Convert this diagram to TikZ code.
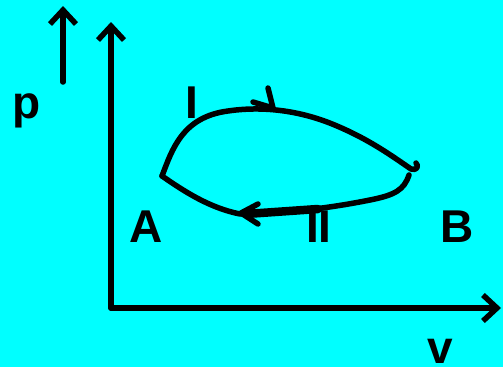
\documentclass[tikz,border=0pt]{standalone}
\usepackage{fontspec}
\setmainfont{Liberation Sans}
\usetikzlibrary{arrows.meta}
\definecolor{bgcyan}{RGB}{0,255,255}
\tikzset{
  lbl/.style={anchor=base west,inner sep=0pt,font=\fontsize{46}{55}\selectfont\bfseries},
  stroke/.style={line width=5.5pt,line cap=round,line join=round},
  axis/.style={stroke,-{Straight Barb[length=14pt,width=26pt,line width=5.5pt]}}
}
\begin{document}
\begin{tikzpicture}[x=1pt,y=-1pt]
\path[use as bounding box,fill=bgcyan] (0,0) rectangle (503.0,367.0);
\coordinate (origin) at (111,308);
\coordinate (ptop) at (111,22);
\coordinate (vend) at (501,308);
\coordinate (pfrom) at (63,82);
\coordinate (pto) at (63,6);
\coordinate (stA) at (162,176);
\coordinate (stB) at (409,175);
\draw[axis] (origin) -- (ptop);
\draw[axis] (origin) -- (vend);
\draw[axis] (pfrom) -- (pto);
\node[lbl] (lblP) at (12,118) {p};
\node[lbl] (lblV) at (427,363) {v};
\node[lbl] (lblA) at (129,242) {A};
\node[lbl] (lblB) at (440,242) {B};
\node[lbl] (lblI) at (185,118) {I};
\node[lbl] (lblII) at (306,242) {II};
% process I, A to B
\draw[stroke] (stA) .. controls (172,150) and (182,117) .. (228,111) .. controls (262,106) and (300,110) .. (337,126) .. controls (370,140) and (392,156) .. (411,169) .. controls (417,171) and (419,166) .. (416,163);
\draw[stroke] (253,102) -- (273,108) -- (268,88);
% process II, B to A
\draw[stroke] (stB) .. controls (404,190) and (395,195) .. (370,200) .. controls (330,208) and (290,213) .. (240,214) .. controls (210,208) and (185,192) .. (stA);
\draw[line width=8.5pt,line cap=round] (246,214) -- (318,209);
\draw[stroke] (258,204) -- (241,213) -- (258,224);
\end{tikzpicture}
\end{document}
